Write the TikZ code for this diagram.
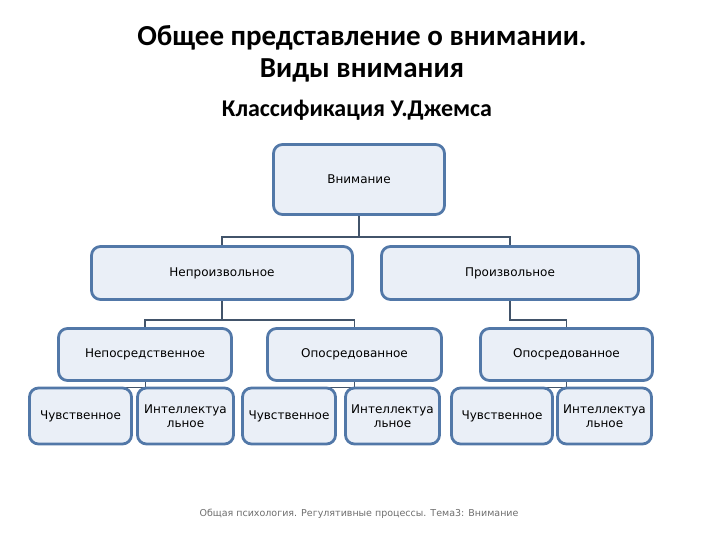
\documentclass[tikz,border=0pt]{standalone}
\usepackage{fontspec}
\setmainfont{DejaVu Sans}
\newfontfamily\titlefont{Carlito}
\usetikzlibrary{backgrounds}
\definecolor{boxline}{RGB}{82,120,168}
\definecolor{boxfill}{RGB}{234,239,247}
\definecolor{linkgray}{RGB}{66,84,106}
\definecolor{footgray}{RGB}{110,110,110}

\begin{document}
\begin{tikzpicture}[x=1pt,y=-1pt,
  kind/.style={draw=boxline, fill=boxfill, line width=2.8pt, rounded corners=9pt,
    align=center, font=\fontsize{12}{14}\selectfont, inner sep=2pt},
  link/.style={draw=linkgray, line width=1.6pt}]

  \useasboundingbox (0,0) rectangle (720,540);

  % headings
  \node[font=\titlefont\bfseries\fontsize{29}{32}\selectfont, align=center] (head) at (362,54)
    {Общее представление о внимании.\\Виды внимания};
  \node[font=\titlefont\bfseries\fontsize{24}{26}\selectfont] (sub) at (357,110)
    {Классификация У.Джемса};

  % top
  \node[kind, minimum width=171, minimum height=70] (vnim) at (359,179.5) {Внимание};

  % second row
  \node[kind, minimum width=261, minimum height=53] (neproizv) at (222,273) {Непроизвольное};
  \node[kind, minimum width=257, minimum height=53] (proizv) at (510,273) {Произвольное};

  % third row
  \node[kind, minimum width=173, minimum height=52] (neposr) at (145,354.5) {Непосредственное};
  \node[kind, minimum width=174, minimum height=52] (oposrA) at (354.5,354.5) {Опосредованное};
  \node[kind, minimum width=172, minimum height=52] (oposrB) at (566.5,354.5) {Опосредованное};

  % bottom row
  \node[kind, minimum width=102, minimum height=56] (chuvA) at (80.5,416) {Чувственное};
  \node[kind, minimum width=96, minimum height=56] (intA) at (185.5,416) {Интеллектуа\\льное};
  \node[kind, minimum width=93, minimum height=56] (chuvB) at (289,416) {Чувственное};
  \node[kind, minimum width=94, minimum height=56] (intB) at (392.5,416) {Интеллектуа\\льное};
  \node[kind, minimum width=101, minimum height=56] (chuvC) at (502,416) {Чувственное};
  \node[kind, minimum width=94, minimum height=56] (intC) at (604.5,416) {Интеллектуа\\льное};

  % connectors
  \begin{scope}[on background layer]
    \draw[link] (vnim.south) -- ++(0,21) -| (neproizv.north);
    \draw[link] (vnim.south) -- ++(0,21) -| (proizv.north);
    \draw[link] (neproizv.south) -- ++(0,19) -| (neposr.north);
    \draw[link] (neproizv.south) -- ++(0,19) -| (oposrA.north);
    \draw[link] (proizv.south) -- ++(0,19) -| (oposrB.north);
    \foreach \up/\left/\right in {neposr/chuvA/intA, oposrA/chuvB/intB, oposrB/chuvC/intC}{
      \draw[link, line width=1pt] (\up.south) -- ++(0,6) -| (\left.north);
      \draw[link, line width=1pt] (\up.south) -- ++(0,6) -| (\right.north);
    }
  \end{scope}

  % footer
  \node[font=\fontsize{9.5}{11}\selectfont, text=footgray] (foot) at (359,514)
    {Общая психология. Регулятивные процессы. Тема3: Внимание};

\end{tikzpicture}
\end{document}
